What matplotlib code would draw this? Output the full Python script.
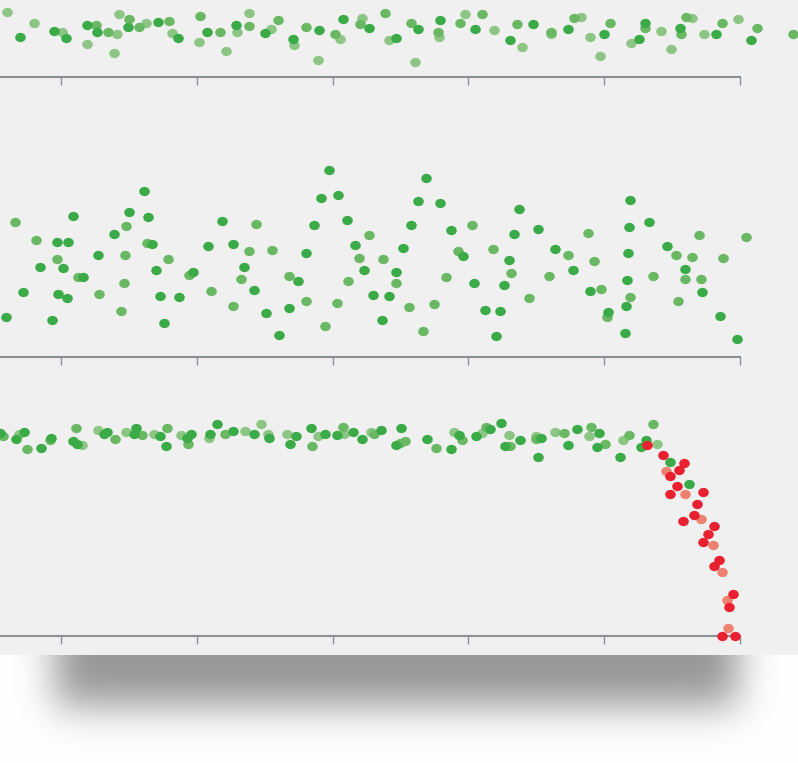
import math
import numpy as np
import matplotlib
matplotlib.use("Agg")
import matplotlib.pyplot as plt
from matplotlib.path import Path
from matplotlib.patches import Rectangle

# ---------------- data (x position, vertical position, shade) ----------------
# shades: D = dark green, M = medium green, L = light green, R = red, S = salmon
top_x = [7, 20, 34, 54, 62, 66, 87, 96, 97, 87, 108, 117, 119, 114, 129, 128, 139, 146, 158, 169,
         172, 178, 199, 200, 207, 220, 226, 236, 237, 249, 249, 265, 271, 278, 293, 294, 306, 319, 318, 335,
         340, 343, 362, 360, 369, 385, 389, 396, 411, 418, 415, 440, 438, 439, 460, 465, 475, 482, 494, 510,
         517, 522, 533, 551, 551, 568, 574, 581, 590, 600, 604, 610, 631, 639, 645, 645, 661, 671, 680, 681,
         686, 692, 704, 716, 722, 738, 751, 757, 793]
top_y = [12, 37, 23, 31, 32, 38, 25, 25, 32, 44, 32, 34, 14, 53, 19, 27, 27, 23, 22, 21,
         33, 38, 42, 16, 32, 32, 51, 25, 32, 13, 26, 33, 29, 20, 39, 45, 27, 30, 60, 34,
         39, 19, 18, 24, 28, 13, 40, 38, 23, 29, 62, 20, 32, 37, 23, 14, 29, 14, 30, 40,
         24, 47, 24, 32, 34, 29, 18, 17, 37, 56, 34, 23, 43, 39, 23, 28, 31, 49, 28, 34,
         17, 18, 34, 34, 23, 19, 40, 28, 34]
top_c = list("LDLDLDDMDLMLLLMDMLDMLDLMDMLDLLMDLMDLMDLMLDLMDMLDMDLDMLMLDMLDMLDMLDMLLLDMLDDMLLDMMLLDMLDMM")

mid_x = [329, 144, 321, 338, 73, 129, 148, 15, 126, 222, 256, 314, 347, 114, 36, 57, 68, 147, 152, 369,
         355, 208, 233, 249, 272, 98, 125, 57, 168, 306, 359, 383, 40, 63, 156, 244, 364, 396, 78, 83,
         189, 193, 241, 289, 298, 348, 396, 124, 23, 58, 67, 99, 160, 179, 211, 254, 373, 389, 306, 337,
         121, 233, 266, 289, 6, 52, 164, 325, 382, 279,
         426, 418, 440, 519, 411, 451, 472, 514, 538, 630, 629, 649, 588, 699, 746, 403, 458, 463, 493, 555,
         568, 594, 628, 667, 676, 692, 723, 509, 573, 685, 446, 474, 511, 549, 504, 627, 653, 685, 701, 702,
         409, 434, 485, 500, 529, 590, 601, 608, 607, 626, 630, 678, 720, 423, 496, 625, 737]
mid_y = [170, 191, 198, 195, 216, 212, 217, 222, 226, 221, 224, 225, 220, 234, 240, 242, 242, 243, 244, 235,
         245, 246, 244, 251, 250, 255, 255, 259, 259, 253, 258, 259, 267, 268, 270, 267, 270, 272, 277, 277,
         275, 272, 279, 276, 281, 281, 283, 283, 292, 294, 298, 294, 296, 297, 291, 290, 295, 296, 301, 303,
         311, 306, 313, 308, 317, 320, 323, 326, 320, 335,
         178, 201, 203, 209, 225, 230, 225, 234, 229, 200, 227, 222, 233, 235, 237, 248, 251, 256, 249, 249,
         255, 261, 253, 246, 255, 257, 258, 260, 270, 269, 277, 283, 273, 276, 285, 280, 276, 279, 279, 292,
         307, 304, 310, 311, 298, 291, 289, 312, 317, 306, 297, 301, 316, 331, 336, 333, 339]
mid_c = list("DDDDDDDMMDMDDDMDDMDMDDDMMDMMMDMMDDDDDDMDMDMMDMMMDDDMDDMDDDMMMMDDDDDMDD"
             "DDDDDDMDDDDDMMMDMDMDMMDDMMMDDDMDMMDDMMMDMMDDMDMDMDMMDMDDD")

bot_x = [0, 3, 16, 19, 24, 27, 41, 50, 51, 76, 73, 77, 82, 98, 104, 107, 115, 126, 136, 134,
         142, 154, 160, 167, 166, 181, 187, 191, 188, 209, 210, 217, 225, 233, 245, 254, 261, 268, 269, 287,
         290, 296, 311, 312, 318, 325, 337, 343, 344, 353, 362, 371, 374, 381, 401, 396, 405, 400, 427, 436,
         451, 454, 459, 462, 476, 482, 486, 490, 501, 509, 505, 510, 520, 536, 536, 541, 538, 555, 564, 568,
         577, 589, 591, 599, 597, 605, 620, 623, 629, 641, 646, 653, 657, 670, 689,
         647, 663, 670, 679, 684, 677, 670, 703, 697, 694, 683, 714, 708, 703, 719, 714, 733, 729, 722, 735,
         666, 685, 701, 713, 722, 727, 728]
bot_y = [433, 436, 439, 434, 432, 449, 448, 440, 438, 428, 441, 444, 445, 430, 434, 432, 439, 432, 428, 434,
         435, 434, 436, 428, 446, 435, 438, 434, 444, 438, 434, 424, 434, 431, 431, 434, 424, 434, 438, 434,
         444, 436, 428, 446, 436, 434, 435, 427, 434, 432, 439, 432, 434, 430, 428, 445, 441, 443, 439, 448,
         449, 432, 435, 440, 436, 433, 427, 429, 423, 435, 446, 446, 440, 436, 439, 438, 457, 432, 433, 445,
         429, 436, 427, 433, 447, 444, 457, 440, 435, 447, 440, 424, 444, 462, 484,
         445, 455, 476, 470, 463, 486, 494, 492, 504, 515, 521, 526, 534, 542, 560, 566, 594, 607, 636, 636,
         471, 494, 519, 545, 572, 600, 628]
bot_c = list("DMDLDMDMDMDDLLDDMLDDMLDMDLDDMLDDMDLDLLDLDDDMLDDMLDDLMDDDMMDMDLDMDLMDDLDMDLMDDLMDDLMDDMDLMDDMLDD"
             "RRRRRRRRRRRRRRRRRRRR" "SSSSSSS")

tick_positions = [61, 197, 333, 468, 604, 740]

colors = {"L": "#8cc584", "M": "#6ab864", "D": "#3aab46", "R": "#e8202f", "S": "#ee8270"}
draw_order = ["L", "M", "D", "S", "R"]

# ---------------- figure ----------------
W, H = 798, 763
fig = plt.figure(figsize=(W / 100, H / 100), dpi=100)
fig.patch.set_facecolor("white")

# background: shadow + gray panel
bg = fig.add_axes([0, 0, 1, 1], zorder=0)
bg.set_xlim(0, W)
bg.set_ylim(H, 0)
bg.axis("off")
erf = np.vectorize(math.erf)
xs = np.arange(W) + 0.5
ys = np.arange(H) + 0.5
sx, sy = 19.0, 20.0
fx = 0.5 * (erf((xs - 55) / (sx * math.sqrt(2))) - erf((xs - 738) / (sx * math.sqrt(2))))
fy = 0.5 * (1 - erf((ys - 706) / (sy * math.sqrt(2))))
dark = 0.41 * np.outer(fy, fx)
img = np.ones((H, W, 3)) * (1 - dark)[:, :, None]
bg.imshow(img, extent=(0, W, H, 0), aspect="auto", interpolation="bilinear")
bg.add_patch(Rectangle((0, 0), W, 655, facecolor="#f0f0f0", edgecolor="none"))

# ellipse marker
circ = Path.unit_circle()
ell = Path(circ.vertices * np.array([1.0, 0.88]), circ.codes)

panels = [
    (top_x, top_y, top_c, 0, 77),
    (mid_x, mid_y, mid_c, 77, 357),
    (bot_x, bot_y, bot_c, 357, 636),
]
axis_color = "#8b9098"
for px, py, pc, y0, y1 in panels:
    ax = fig.add_axes([0, 1 - y1 / H, 1, (y1 - y0) / H], zorder=2)
    ax.patch.set_alpha(0)
    ax.set_xlim(0, W)
    ax.set_ylim(y1, y0)
    px = np.array(px); py = np.array(py); pc = np.array(pc)
    for key in draw_order:
        m = pc == key
        if m.any():
            ax.scatter(px[m], py[m], s=58, marker=ell, color=colors[key],
                       linewidths=0, clip_on=False, zorder=3)
    for side in ["top", "left", "right"]:
        ax.spines[side].set_visible(False)
    ax.spines["bottom"].set_color(axis_color)
    ax.spines["bottom"].set_linewidth(1.5)
    ax.spines["bottom"].set_bounds(0, tick_positions[-1])
    ax.set_xticks(tick_positions)
    ax.set_xticklabels([])
    ax.set_yticks([])
    ax.tick_params(axis="x", direction="out", length=5.5, width=1.0, color=axis_color)

fig.savefig("out.png", dpi=100, facecolor="white")
